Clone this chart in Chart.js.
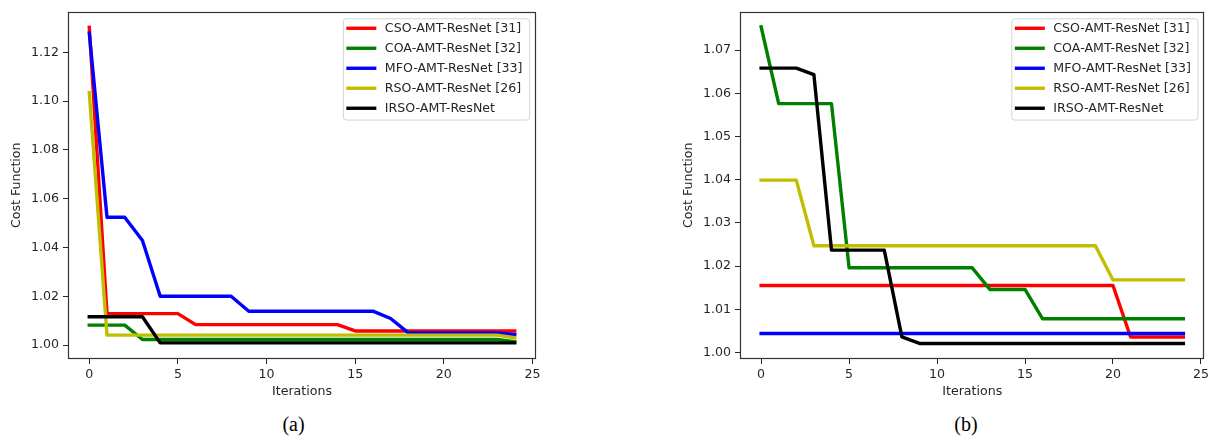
<!DOCTYPE html>
<html>
<head>
<meta charset="utf-8">
<script src="https://cdn.jsdelivr.net/npm/chart.js@4.4.0/dist/chart.umd.min.js"></script>
<style>
  html, body { margin: 0; padding: 0; background: #ffffff; }
  #wrap { position: relative; width: 1212px; height: 436px; overflow: hidden; background: #fff; }
  canvas { position: absolute; top: 0; }
  #ca { left: 0; }
  #cb { left: 606px; }
  .cap { position: absolute; top: 424px; transform: translate(-50%, -50%);
         font-family: "Liberation Serif", "Times New Roman", serif; font-size: 20px; color: #000; white-space: nowrap; }
</style>
</head>
<body>
<div id="wrap">
  <canvas id="ca" width="606" height="400"></canvas>
  <canvas id="cb" width="606" height="400"></canvas>
  <div class="cap" style="left:293.5px">(a)</div>
  <div class="cap" style="left:966px">(b)</div>
</div>
<script>
// ---------------- data ----------------
const iterations = [0,1,2,3,4,5,6,7,8,9,10,11,12,13,14,15,16,17,18,19,20,21,22,23,24];
const seriesNames = ['CSO-AMT-ResNet [31]', 'COA-AMT-ResNet [32]', 'MFO-AMT-ResNet [33]', 'RSO-AMT-ResNet [26]', 'IRSO-AMT-ResNet'];
const seriesColors = ['#ff0000', '#008000', '#0000ff', '#bfbf00', '#000000'];

// panel (a)
const csoA  = [1.1302,1.0129,1.0129,1.0129,1.0129,1.0129,1.0084,1.0084,1.0084,1.0084,1.0084,1.0084,1.0084,1.0084,1.0084,1.0058,1.0058,1.0058,1.0058,1.0058,1.0058,1.0058,1.0058,1.0058,1.0058];
const coaA  = [1.0082,1.0082,1.0082,1.0023,1.0023,1.0023,1.0023,1.0023,1.0023,1.0023,1.0023,1.0023,1.0023,1.0023,1.0023,1.0023,1.0023,1.0023,1.0023,1.0023,1.0023,1.0023,1.0023,1.0023,1.0014];
const mfoA  = [1.1279,1.0524,1.0524,1.0429,1.0200,1.0200,1.0200,1.0200,1.0200,1.0139,1.0139,1.0139,1.0139,1.0139,1.0139,1.0139,1.0139,1.0109,1.0050,1.0050,1.0050,1.0050,1.0050,1.0050,1.0043];
const rsoA  = [1.1035,1.0041,1.0041,1.0041,1.0041,1.0041,1.0041,1.0041,1.0041,1.0041,1.0041,1.0041,1.0041,1.0041,1.0041,1.0041,1.0041,1.0041,1.0041,1.0041,1.0041,1.0041,1.0041,1.0041,1.0030];
const irsoA = [1.0116,1.0116,1.0116,1.0116,1.0009,1.0009,1.0009,1.0009,1.0009,1.0009,1.0009,1.0009,1.0009,1.0009,1.0009,1.0009,1.0009,1.0009,1.0009,1.0009,1.0009,1.0009,1.0009,1.0009,1.0009];

// panel (b)
const csoB  = [1.0155,1.0155,1.0155,1.0155,1.0155,1.0155,1.0155,1.0155,1.0155,1.0155,1.0155,1.0155,1.0155,1.0155,1.0155,1.0155,1.0155,1.0155,1.0155,1.0155,1.0155,1.0036,1.0036,1.0036,1.0036];
const coaB  = [1.0754,1.0576,1.0576,1.0576,1.0576,1.0196,1.0196,1.0196,1.0196,1.0196,1.0196,1.0196,1.0196,1.0146,1.0146,1.0146,1.0078,1.0078,1.0078,1.0078,1.0078,1.0078,1.0078,1.0078,1.0078];
const mfoB  = [1.0044,1.0044,1.0044,1.0044,1.0044,1.0044,1.0044,1.0044,1.0044,1.0044,1.0044,1.0044,1.0044,1.0044,1.0044,1.0044,1.0044,1.0044,1.0044,1.0044,1.0044,1.0044,1.0044,1.0044,1.0044];
const rsoB  = [1.0399,1.0399,1.0399,1.0247,1.0247,1.0247,1.0247,1.0247,1.0247,1.0247,1.0247,1.0247,1.0247,1.0247,1.0247,1.0247,1.0247,1.0247,1.0247,1.0247,1.0168,1.0168,1.0168,1.0168,1.0168];
const irsoB = [1.0658,1.0658,1.0658,1.0643,1.0237,1.0237,1.0237,1.0237,1.0036,1.0021,1.0021,1.0021,1.0021,1.0021,1.0021,1.0021,1.0021,1.0021,1.0021,1.0021,1.0021,1.0021,1.0021,1.0021,1.0021];

// axis ranges and ticks
const xRange = [-1.2, 25.2];
const xTickStep = 5;
const yRangeA = [0.9943, 1.1367];
const yTickStepA = 0.02;
const yRangeB = [0.9985, 1.0789];
const yTickStepB = 0.01;

// ---------------- styling ----------------
const FS = 12.6;
const FONT = 'DejaVu Sans';
const TXT = '#262626';

const framePlugin = {
  id: 'mplFrame',
  afterDatasetsDraw(chart) {
    const {ctx, chartArea: a} = chart;
    ctx.save();
    ctx.strokeStyle = '#333333';
    ctx.lineWidth = 1.2;
    const l = Math.round(a.left) + 0.5, t = Math.round(a.top) + 0.5;
    const r = Math.round(a.right) - 0.5, b = Math.round(a.bottom) - 0.5;
    ctx.strokeRect(l, t, r - l, b - t);
    ctx.restore();
  }
};

const legendPlugin = {
  id: 'mplLegend',
  afterDraw(chart) {
    const {ctx, chartArea: a} = chart;
    const ds = chart.data.datasets;
    ctx.save();
    ctx.font = FS + 'px "' + FONT + '"';
    const maxW = Math.max(...ds.map(d => ctx.measureText(d.label).width));
    const w = 42 + maxW + 6.5, h = 101.3;
    const right = a.right - 7, top = a.top + 6.7, left = right - w;
    ctx.beginPath();
    ctx.roundRect(left + 0.5, top + 0.5, w, h, 3);
    ctx.fillStyle = 'rgba(255,255,255,0.8)';
    ctx.fill();
    ctx.strokeStyle = '#d4d4d4';
    ctx.lineWidth = 1;
    ctx.stroke();
    ds.forEach((d, i) => {
      const y = top + 10 + 20 * i;
      ctx.beginPath();
      ctx.strokeStyle = d.borderColor;
      ctx.lineWidth = d.borderWidth;
      ctx.lineCap = 'butt';
      ctx.moveTo(left + 3.5, y);
      ctx.lineTo(left + 33.5, y);
      ctx.stroke();
      ctx.fillStyle = TXT;
      ctx.textBaseline = 'middle';
      ctx.textAlign = 'left';
      ctx.fillText(d.label, left + 42, y + 0.5);
    });
    ctx.restore();
  }
};

function buildDatasets(valueLists) {
  return valueLists.map((vals, i) => ({
    label: seriesNames[i],
    data: iterations.map((x, k) => ({x: x, y: vals[k]})),
    borderColor: seriesColors[i],
    backgroundColor: seriesColors[i],
    borderWidth: 3.4,
    pointRadius: 0,
    tension: 0,
    fill: false,
    borderJoinStyle: 'round',
    borderCapStyle: 'square',
    order: valueLists.length - i
  }));
}

function makeChart(id, valueLists, yRange, yStep, padLeft, padRight) {
  const tickFont = {family: FONT, size: FS};
  return new Chart(document.getElementById(id), {
    type: 'line',
    data: {datasets: buildDatasets(valueLists)},
    options: {
      responsive: false,
      animation: false,
      devicePixelRatio: 1,
      layout: {padding: {left: padLeft, right: padRight, top: 10, bottom: 0}},
      plugins: {legend: {display: false}, tooltip: {enabled: false}},
      scales: {
        x: {
          type: 'linear',
          min: xRange[0], max: xRange[1],
          afterFit: s => { s.height = 41; },
          border: {display: false},
          grid: {drawOnChartArea: false, drawTicks: true, tickLength: 5, tickColor: TXT, lineWidth: 1},
          ticks: {stepSize: xTickStep, includeBounds: false, color: TXT, font: tickFont, padding: 3, maxRotation: 0,
                  callback: v => String(v)},
          title: {display: true, text: 'Iterations', color: TXT, font: tickFont, padding: {top: 0, bottom: 1}}
        },
        y: {
          type: 'linear',
          min: yRange[0], max: yRange[1],
          afterFit: s => { s.width = 68; },
          border: {display: false},
          grid: {drawOnChartArea: false, drawTicks: true, tickLength: 5, tickColor: TXT, lineWidth: 1},
          ticks: {stepSize: yStep, includeBounds: false, color: TXT, font: tickFont, padding: 4,
                  callback: v => Number(v).toFixed(2)},
          title: {display: true, text: 'Cost Function', color: TXT, font: tickFont, padding: {top: 9, bottom: 0}}
        }
      }
    },
    plugins: [framePlugin, legendPlugin]
  });
}

makeChart('ca', [csoA, coaA, mfoA, rsoA, irsoA], yRangeA, yTickStepA, 0, 70);
makeChart('cb', [csoB, coaB, mfoB, rsoB, irsoB], yRangeB, yTickStepB, 66, 4.3);
</script>
</body>
</html>
